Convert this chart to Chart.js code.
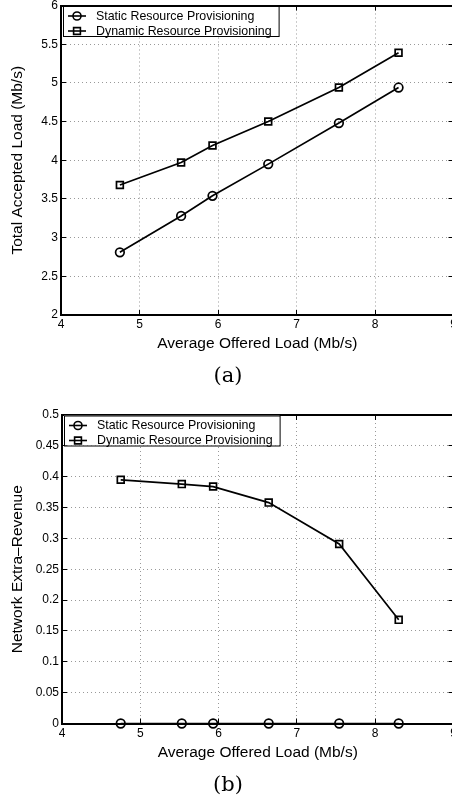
<!DOCTYPE html>
<html>
<head>
<meta charset="utf-8">
<script src="https://cdn.jsdelivr.net/npm/chart.js@4.4.1/dist/chart.umd.min.js"></script>
<style>
  html, body { margin: 0; padding: 0; background: #fff; }
  #stage { position: relative; width: 452px; height: 802px; overflow: hidden; }
  #stage canvas { position: absolute; left: 0; display: block; }
</style>
</head>
<body>
<div id="stage">
  <canvas id="chartA" width="456" height="395" style="top:0"></canvas>
  <canvas id="chartB" width="456" height="402" style="top:400px"></canvas>
</div>
<script>
// Two stacked MATLAB-style line plots: (a) accepted load, (b) extra revenue.
const SERIES = ["Static Resource Provisioning", "Dynamic Resource Provisioning"];
const OFFERED_LOAD = [4.75, 5.53, 5.93, 6.64, 7.54, 8.30];
const ACCEPTED_STATIC = [2.81, 3.28, 3.54, 3.95, 4.48, 4.94];
const ACCEPTED_DYNAMIC = [3.68, 3.97, 4.19, 4.50, 4.94, 5.39];
const REVENUE_STATIC = [0, 0, 0, 0, 0, 0];
const REVENUE_DYNAMIC = [0.395, 0.388, 0.384, 0.358, 0.291, 0.168];
const X_TICKS = [4, 5, 6, 7, 8, 9];
const Y_TICKS_A = [2, 2.5, 3, 3.5, 4, 4.5, 5, 5.5, 6];
const Y_TICKS_B = [0, 0.05, 0.1, 0.15, 0.2, 0.25, 0.3, 0.35, 0.4, 0.45, 0.5];

const SANS = "'Liberation Sans', Arial, Helvetica, sans-serif";
const SERIF = "'DejaVu Serif', 'Liberation Serif', serif";
const TICK_FONT = { family: SANS, size: 12 };
const TITLE_FONT = { family: SANS, size: 15.5, lineHeight: 1.2 };
const GRID = "#999";
const TICK = 5;            // inward tick marks
const CANVAS_W = 456;
const PLOT_RIGHT = 453.5;  // x = 9 sits just past the window edge

const xy = (xs, ys) => xs.map((x, i) => ({ x, y: ys[i] }));
const useTicks = (list) => (s) => { s.ticks = list.map((v) => ({ value: v })); };

// MATLAB legend: boxed, sits in the top-left corner of the axes.
const insideLegend = {
  id: "insideLegend",
  afterDraw(chart) {
    const { ctx, chartArea } = chart;
    const sets = chart.data.datasets;
    ctx.save();
    ctx.font = `12.4px ${SANS}`;
    const textW = Math.max(...sets.map((d) => ctx.measureText(d.label).width));
    const x0 = chartArea.left + 2, y0 = chartArea.top + 0.5;
    const w = 34 + textW + 6, h = 30;
    ctx.fillStyle = "#fff";
    ctx.fillRect(x0, y0, w, h);
    ctx.strokeStyle = "#000";
    ctx.lineWidth = 1;
    ctx.strokeRect(x0 + 0.5, y0 + 0.5, w, h);
    sets.forEach((d, i) => {
      const cy = y0 + 10 + i * 15;
      const mx = x0 + 14;
      ctx.lineWidth = 1.6;
      ctx.beginPath();
      ctx.moveTo(x0 + 5, cy);
      ctx.lineTo(x0 + 23, cy);
      ctx.stroke();
      ctx.beginPath();
      if (d.pointStyle === "circle") ctx.arc(mx, cy, 4, 0, Math.PI * 2);
      else ctx.rect(mx - 3.4, cy - 3.4, 6.8, 6.8);
      ctx.stroke();
      ctx.fillStyle = "#000";
      ctx.textBaseline = "middle";
      ctx.fillText(d.label, x0 + 33, cy + 0.5);
    });
    ctx.restore();
  },
};

function series(label, data, style) {
  return {
    label, data, pointStyle: style,
    borderColor: "#000", borderWidth: 1.7,
    pointRadius: style === "circle" ? 4.3 : 4.8,
    pointBorderColor: "#000", pointBorderWidth: 1.7,
    pointBackgroundColor: "rgba(0,0,0,0)",
    tension: 0, clip: false,
  };
}

function plot(cfg) {
  const H = cfg.height;
  return new Chart(document.getElementById(cfg.id), {
    type: "line",
    data: {
      datasets: [
        series(SERIES[0], xy(OFFERED_LOAD, cfg.staticVals), "circle"),
        series(SERIES[1], xy(OFFERED_LOAD, cfg.dynamicVals), "rect"),
      ],
    },
    options: {
      animation: false, responsive: false, devicePixelRatio: 1,
      layout: { padding: 0, autoPadding: false },
      plugins: {
        legend: { display: false }, tooltip: { enabled: false },
        title: {
          display: true, position: "bottom", text: cfg.caption, color: "#000",
          font: { family: SERIF, size: 21, weight: "normal", lineHeight: "24px" },
          padding: { top: 0, bottom: cfg.capPad },
        },
      },
      scales: {
        x: {
          type: "linear", position: "bottom", min: 4, max: 9,
          afterBuildTicks: useTicks(X_TICKS),
          afterFit: (s) => { s.height = H - 24 - cfg.capPad - cfg.bottom; s.paddingLeft = s.paddingRight = 0; },
          grid: { color: GRID, lineWidth: 1, tickLength: -TICK, tickColor: "#000", tickWidth: 1 },
          border: { color: "#000", width: 2, dash: [1, 3] },
          ticks: { font: TICK_FONT, color: "#000", padding: 7.8, maxRotation: 0, autoSkip: false,
            callback: (v) => String(v) },
          title: { display: true, text: "Average Offered Load (Mb/s)", color: "#000",
            font: TITLE_FONT, padding: { top: 0, bottom: 11.7 } },
        },
        xTop: {
          type: "linear", position: "top", min: 4, max: 9,
          afterBuildTicks: useTicks(X_TICKS),
          afterFit: (s) => { s.height = cfg.top; s.paddingLeft = s.paddingRight = 0; },
          grid: { drawOnChartArea: false, tickLength: -TICK, tickColor: "#000", tickWidth: 1 },
          border: { color: "#000", width: 2 },
          ticks: { display: false },
        },
        y: {
          type: "linear", position: "left", min: cfg.yTicks[0], max: cfg.yTicks[cfg.yTicks.length - 1],
          afterBuildTicks: useTicks(cfg.yTicks),
          afterFit: (s) => { s.width = cfg.left; s.paddingTop = s.paddingBottom = 0; },
          grid: { color: GRID, lineWidth: 1, tickLength: -TICK, tickColor: "#000", tickWidth: 1 },
          border: { color: "#000", width: 2, dash: [1, 3] },
          ticks: { font: TICK_FONT, color: "#000", padding: 8, autoSkip: false,
            callback: (v) => String(v) },
          title: { display: true, text: cfg.yTitle, color: "#000",
            font: TITLE_FONT, padding: { top: 8.4, bottom: 0 } },
        },
        yRight: {
          type: "linear", position: "right", min: cfg.yTicks[0], max: cfg.yTicks[cfg.yTicks.length - 1],
          afterBuildTicks: useTicks(cfg.yTicks),
          afterFit: (s) => { s.width = CANVAS_W - PLOT_RIGHT; s.paddingTop = s.paddingBottom = 0; },
          grid: { drawOnChartArea: false, tickLength: -TICK, tickColor: "#000", tickWidth: 1 },
          border: { color: "#000", width: 2 },
          ticks: { display: false },
        },
      },
    },
    plugins: [insideLegend],
  });
}

plot({
  id: "chartA", height: 395, capPad: 6, top: 5.5, bottom: 315, left: 61,
  yTicks: Y_TICKS_A, yTitle: "Total Accepted Load (Mb/s)", caption: "(a)",
  staticVals: ACCEPTED_STATIC, dynamicVals: ACCEPTED_DYNAMIC,
});
plot({
  id: "chartB", height: 402, capPad: 4, top: 15, bottom: 323.5, left: 62,
  yTicks: Y_TICKS_B, yTitle: "Network Extra\u2013Revenue", caption: "(b)",
  staticVals: REVENUE_STATIC, dynamicVals: REVENUE_DYNAMIC,
});
</script>
</body>
</html>
